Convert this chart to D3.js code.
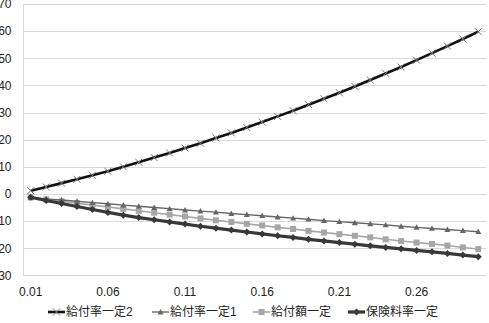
<!DOCTYPE html>
<html><head><meta charset="utf-8">
<script src="https://cdn.jsdelivr.net/npm/d3@7"></script>
<style>
html,body{margin:0;padding:0;background:#fff;}
svg{display:block;font-family:"Liberation Sans","Noto Sans CJK JP",sans-serif;}
</style></head>
<body>
<svg id="chart" width="489" height="323"></svg>
<script>
const categories = ["0.01","0.02","0.03","0.04","0.05","0.06","0.07","0.08","0.09","0.10",
  "0.11","0.12","0.13","0.14","0.15","0.16","0.17","0.18","0.19","0.20",
  "0.21","0.22","0.23","0.24","0.25","0.26","0.27","0.28","0.29","0.30"];
const xTickLabels = ["0.01","0.06","0.11","0.16","0.21","0.26"];
const yTicks = [-30,-20,-10,0,10,20,30,40,50,60,70];
const seriesNames = ["給付率一定2","給付率一定1","給付額一定","保険料率一定"];
const kyufuRitsu2 = [1.2,2.6,4.0,5.4,6.9,8.4,10.0,11.7,13.4,15.1,16.9,18.7,20.6,22.5,24.5,26.5,28.6,30.7,32.9,35.1,37.3,39.6,42.0,44.4,46.8,49.3,51.9,54.5,57.1,59.8];
const kyufuRitsu1 = [-1.3,-1.8,-2.2,-2.7,-3.2,-3.6,-4.1,-4.5,-5.0,-5.4,-5.9,-6.3,-6.7,-7.2,-7.6,-8.0,-8.5,-8.9,-9.3,-9.8,-10.2,-10.6,-11.0,-11.4,-11.9,-12.3,-12.7,-13.1,-13.5,-13.9];
const kyufuGaku = [-1.3,-2.0,-2.7,-3.4,-4.1,-4.8,-5.5,-6.2,-6.9,-7.6,-8.3,-9.0,-9.7,-10.3,-11.0,-11.6,-12.3,-12.9,-13.6,-14.2,-14.8,-15.4,-16.0,-16.7,-17.3,-17.9,-18.4,-19.0,-19.7,-20.3];
const hokenryoRitsu = [-1.2,-2.4,-3.5,-4.6,-5.7,-6.8,-7.8,-8.7,-9.5,-10.3,-11.1,-11.9,-12.6,-13.3,-14.0,-14.7,-15.4,-16.0,-16.7,-17.3,-17.9,-18.5,-19.1,-19.7,-20.2,-20.8,-21.3,-21.9,-22.5,-23.1];

const svg = d3.select("#chart");
const x = d3.scaleBand().domain(categories).range([23, 486]).padding(0);
const y = d3.scaleLinear().domain([-30, 70]).range([275.4, 4]);
const cx = c => x(c) + x.bandwidth() / 2;

// gridlines
svg.append("g").selectAll("line").data(yTicks).join("line")
  .attr("x1", 23).attr("x2", 486)
  .attr("y1", d => Math.round(y(d)) + 0.5).attr("y2", d => Math.round(y(d)) + 0.5)
  .attr("stroke", "#d9d9d9").attr("stroke-width", 1);
// y axis line
svg.append("line").attr("x1", 23.5).attr("x2", 23.5).attr("y1", y(70)).attr("y2", y(-30))
  .attr("stroke", "#d9d9d9");

// y labels (the minus signs fall off the left edge, as in the reference)
const yAxis = d3.axisLeft(y).tickValues(yTicks).tickSize(0).tickPadding(0).tickFormat(d3.format("d"));
const gy = svg.append("g").attr("transform", "translate(11.5,0)").call(yAxis);
gy.select(".domain").remove();
gy.selectAll("text").attr("font-size", 12).attr("fill", "#222").attr("font-family", "Liberation Sans, sans-serif");

// x labels
const xAxis = d3.axisBottom(x).tickValues(xTickLabels).tickSize(0).tickPadding(0);
const gx = svg.append("g").attr("transform", "translate(0,287)").call(xAxis);
gx.select(".domain").remove();
gx.selectAll("text").attr("font-size", 12).attr("fill", "#222").attr("font-family", "Liberation Sans, sans-serif");

const seriesData = [kyufuRitsu2, kyufuRitsu1, kyufuGaku, hokenryoRitsu];
const styles = [
  {color:"#111", width:2.6, marker:"x", mcolor:"#777", msize:7},
  {color:"#666", width:1.4, marker:"tri", mcolor:"#666", msize:6},
  {color:"#a6a6a6", width:1.6, marker:"sq", mcolor:"#a6a6a6", msize:6},
  {color:"#383838", width:3.2, marker:"dia", mcolor:"#383838", msize:7}
];
const drawOrder = [2,1,3,0];

function drawMarker(g, type, px, py, s) {
  const h = s.msize/2;
  if (type === "x") {
    g.append("path").attr("d", `M${px-h},${py-h}L${px+h},${py+h}M${px-h},${py+h}L${px+h},${py-h}`)
      .attr("stroke", s.mcolor).attr("stroke-width", 1).attr("fill", "none");
  } else if (type === "tri") {
    g.append("path").attr("d", `M${px},${py-h}L${px+h},${py+h*0.8}L${px-h},${py+h*0.8}Z`).attr("fill", s.mcolor);
  } else if (type === "sq") {
    g.append("rect").attr("x", px-h).attr("y", py-h).attr("width", s.msize).attr("height", s.msize).attr("fill", s.mcolor);
  } else {
    g.append("path").attr("d", `M${px},${py-h}L${px+h},${py}L${px},${py+h}L${px-h},${py}Z`).attr("fill", s.mcolor);
  }
}

const line = d3.line().x((d,i) => cx(categories[i])).y(d => y(d));
drawOrder.forEach(k => {
  const s = styles[k];
  const g = svg.append("g");
  g.append("path").datum(seriesData[k]).attr("d", line).attr("fill", "none")
    .attr("stroke", s.color).attr("stroke-width", s.width).attr("stroke-linejoin", "round");
  seriesData[k].forEach((v,i) => drawMarker(g, s.marker, cx(categories[i]), y(v), s));
});

// legend
const legendX = [48, 152, 253, 348];
const ly = 312;
seriesNames.forEach((name, k) => {
  const s = styles[k];
  const g = svg.append("g");
  g.append("line").attr("x1", legendX[k]).attr("x2", legendX[k]+17).attr("y1", ly).attr("y2", ly)
    .attr("stroke", s.color).attr("stroke-width", s.width);
  drawMarker(g, s.marker, legendX[k]+8.5, ly, s);
  g.append("text").attr("x", legendX[k]+18).attr("y", ly).attr("dy", "0.35em")
    .attr("font-size", 12).attr("fill", "#222").text(name);
});
</script>
</body></html>
